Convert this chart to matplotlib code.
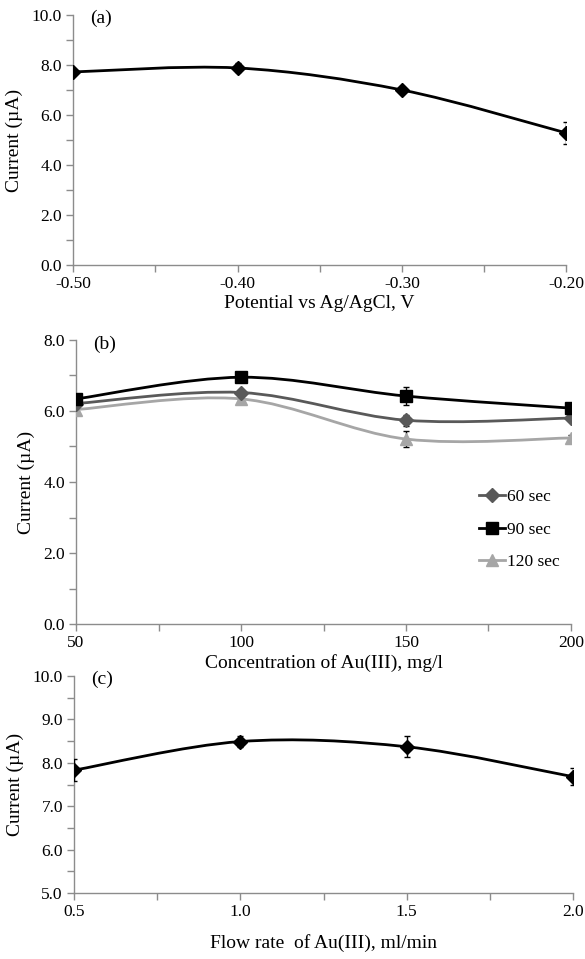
import numpy as np
import matplotlib
matplotlib.use("Agg")
import matplotlib.pyplot as plt
from matplotlib.path import Path
from matplotlib.patches import PathPatch
from matplotlib.ticker import MultipleLocator, FormatStrFormatter

plt.rcParams['font.family'] = ['Liberation Serif', 'DejaVu Serif']

# (a) potential
potential = [-0.50, -0.40, -0.30, -0.20]
current_a = [7.72, 7.88, 7.00, 5.28]
err_a = [0.05, 0.18, 0.08, 0.45]

# (b) concentration, three deposition times
conc = [50, 100, 150, 200]
current_60 = [6.21, 6.52, 5.74, 5.80]
current_90 = [6.34, 6.95, 6.42, 6.08]
current_120 = [6.04, 6.34, 5.21, 5.24]
err_60 = [0.05, 0.05, 0.15, 0.08]
err_90 = [0.05, 0.05, 0.25, 0.08]
err_120 = [0.05, 0.05, 0.22, 0.08]

# (c) flow rate
flow = [0.5, 1.0, 1.5, 2.0]
current_c = [7.83, 8.49, 8.37, 7.68]
err_c = [0.26, 0.12, 0.24, 0.19]

AXIS_GREY = '#8c8c8c'


def smooth_path(x, y):
    # Excel-style smoothed line: cubic Bezier through the points
    p = np.column_stack([x, y]).astype(float)
    ext = np.vstack([p[0], p, p[-1]])
    verts = [p[0]]
    codes = [Path.MOVETO]
    for i in range(len(p) - 1):
        c1 = ext[i + 1] + (ext[i + 2] - ext[i]) / 6.0
        c2 = ext[i + 2] - (ext[i + 3] - ext[i + 1]) / 6.0
        verts += [c1, c2, p[i + 1]]
        codes += [Path.CURVE4] * 3
    return Path(verts, codes)


def draw_series(ax, x, y, err, color, marker, ms, label=None, z=3):
    ax.add_patch(PathPatch(smooth_path(x, y), facecolor='none', edgecolor=color,
                           lw=2.0, zorder=z))
    ax.errorbar(x, y, yerr=err, fmt='none', ecolor='black', elinewidth=1.0,
                capsize=2.5, capthick=1.0, zorder=z + 0.5)
    ax.plot(x, y, linestyle='none', marker=marker, ms=ms, color=color,
            mec=color, zorder=z + 1)
    if label is not None:
        ax.plot([], [], '-', marker=marker, ms=ms, color=color, lw=2.0, label=label)


def style_axes(ax):
    for s in ['top', 'right']:
        ax.spines[s].set_visible(False)
    for s in ['left', 'bottom']:
        ax.spines[s].set_color(AXIS_GREY)
        ax.spines[s].set_linewidth(1.0)
    ax.tick_params(which='both', direction='out', length=5, width=1.0,
                   color=AXIS_GREY, labelsize=12.5, pad=3)
    ax.set_ylabel('Current (µA)', fontsize=14, labelpad=6)


fig = plt.figure(figsize=(5.85, 9.59), dpi=100)

# ---- (a)
ax1 = fig.add_axes([0.125, 0.7237, 0.843, 0.2607])
draw_series(ax1, potential, current_a, err_a, 'black', 'D', 7)
ax1.set_xlim(-0.50, -0.20)
ax1.set_ylim(0, 10)
ax1.xaxis.set_major_locator(MultipleLocator(0.1))
ax1.xaxis.set_minor_locator(MultipleLocator(0.05))
ax1.yaxis.set_major_locator(MultipleLocator(2.0))
ax1.yaxis.set_minor_locator(MultipleLocator(1.0))
ax1.xaxis.set_major_formatter(FormatStrFormatter('%.2f'))
ax1.yaxis.set_major_formatter(FormatStrFormatter('%.1f'))
style_axes(ax1)
ax1.set_xlabel('Potential vs Ag/AgCl, V', fontsize=14, labelpad=2)
ax1.text(0.035, 0.985, '(a)', transform=ax1.transAxes, fontsize=14,
         ha='left', va='center')

# ---- (b)
ax2 = fig.add_axes([0.130, 0.3493, 0.846, 0.2962])
draw_series(ax2, conc, current_60, err_60, '#595959', 'D', 7, '60 sec', z=4)
draw_series(ax2, conc, current_90, err_90, 'black', 's', 8, '90 sec', z=5)
draw_series(ax2, conc, current_120, err_120, '#a6a6a6', '^', 8, '120 sec', z=3)
ax2.set_xlim(50, 200)
ax2.set_ylim(0, 8)
ax2.xaxis.set_major_locator(MultipleLocator(50))
ax2.xaxis.set_minor_locator(MultipleLocator(25))
ax2.yaxis.set_major_locator(MultipleLocator(2.0))
ax2.yaxis.set_minor_locator(MultipleLocator(1.0))
ax2.yaxis.set_major_formatter(FormatStrFormatter('%.1f'))
style_axes(ax2)
ax2.set_xlabel('Concentration of Au(III), mg/l', fontsize=14, labelpad=2)
ax2.text(0.035, 0.985, '(b)', transform=ax2.transAxes, fontsize=14,
         ha='left', va='center')
ax2.legend(loc='upper left', bbox_to_anchor=(0.80, 0.50), frameon=False,
           fontsize=12.5, handlelength=1.5, handletextpad=0.1,
           labelspacing=0.95, numpoints=1, borderaxespad=0)

# ---- (c)
ax3 = fig.add_axes([0.1265, 0.0688, 0.853, 0.2263])
draw_series(ax3, flow, current_c, err_c, 'black', 'D', 7)
ax3.set_xlim(0.5, 2.0)
ax3.set_ylim(5, 10)
ax3.xaxis.set_major_locator(MultipleLocator(0.5))
ax3.xaxis.set_minor_locator(MultipleLocator(0.25))
ax3.yaxis.set_major_locator(MultipleLocator(1.0))
ax3.yaxis.set_minor_locator(MultipleLocator(0.5))
ax3.xaxis.set_major_formatter(FormatStrFormatter('%.1f'))
ax3.yaxis.set_major_formatter(FormatStrFormatter('%.1f'))
style_axes(ax3)
ax3.set_xlabel('Flow rate  of Au(III), ml/min', fontsize=14, labelpad=10)
ax3.text(0.035, 0.985, '(c)', transform=ax3.transAxes, fontsize=14,
         ha='left', va='center')

for ax in (ax1, ax2, ax3):
    ax.patch.set_visible(False)

fig.savefig('out.png', dpi=100)
